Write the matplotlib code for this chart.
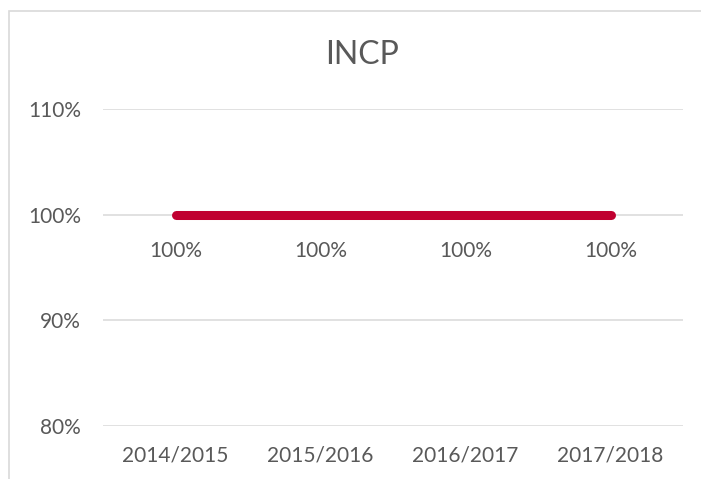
import matplotlib.pyplot as plt
from matplotlib.patches import Rectangle

# dados
anos = ["2014/2015", "2015/2016", "2016/2017", "2017/2018"]
valores = [1.00, 1.00, 1.00, 1.00]
rotulos = ["100%", "100%", "100%", "100%"]
yticks = [0.8, 0.9, 1.0, 1.1]
ytick_labels = ["80%", "90%", "100%", "110%"]

plt.rcParams['font.family'] = ['Lato', 'DejaVu Sans']
cinza = '#595959'

fig = plt.figure(figsize=(7.01, 4.79), dpi=100)
# moldura do gráfico (estilo Excel)
fig.patches.append(Rectangle((9 / 701, -0.1), 1.2, (479 - 11) / 479 + 0.1,
                             transform=fig.transFigure, fill=False,
                             edgecolor='#D9D9D9', linewidth=1.2))

ax = fig.add_axes([103 / 701, 53 / 479, 580 / 701, 317 / 479])
x = range(len(anos))
ax.plot(x, valores, color='#C00030', linewidth=6.5, solid_capstyle='round', zorder=3)

for xi, v, r in zip(x, valores, rotulos):
    ax.annotate(r, (xi, v), xytext=(0, -26), textcoords='offset points',
                ha='center', va='center', fontsize=15, color=cinza)

ax.set_xlim(-0.5, len(anos) - 0.5)
ax.set_ylim(0.8, 1.1)
ax.set_yticks(yticks)
ax.set_yticklabels(ytick_labels)
ax.set_xticks(list(x))
ax.set_xticklabels(anos)
ax.tick_params(axis='y', length=0, pad=16, labelsize=15, labelcolor=cinza)
ax.tick_params(axis='x', length=0, pad=14, labelsize=15, labelcolor=cinza)
ax.grid(axis='y', color='#D9D9D9', linewidth=1.1)
ax.set_axisbelow(True)
for s in ax.spines.values():
    s.set_visible(False)

fig.text(362 / 701, 1 - 55 / 479, "INCP", ha='center', va='center',
         fontsize=23, color=cinza)

fig.savefig('out.png', dpi=100)
